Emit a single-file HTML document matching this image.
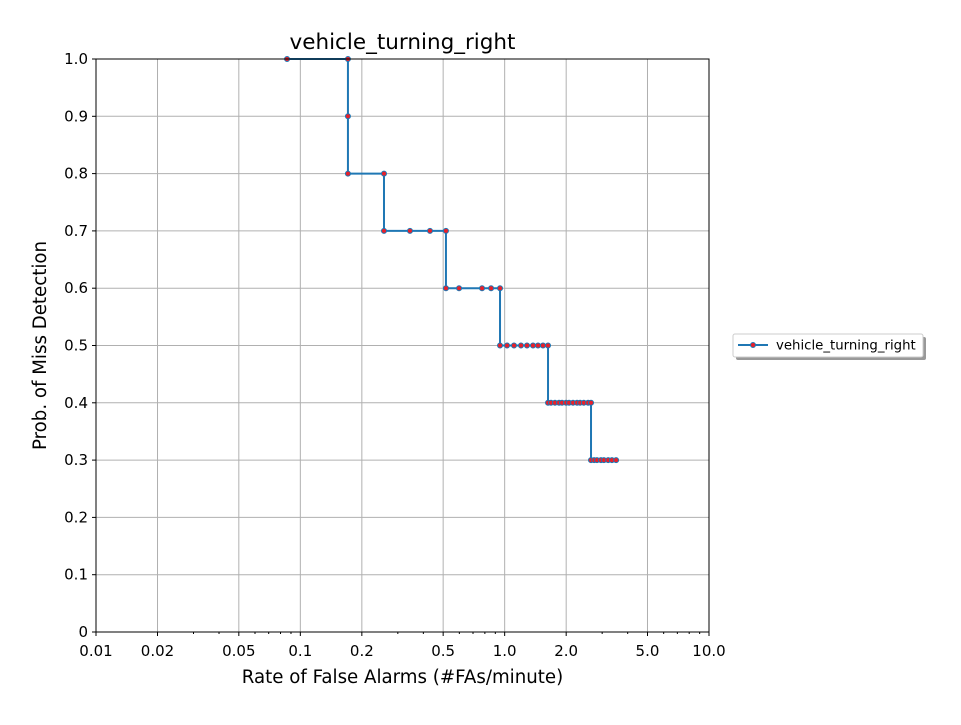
<!DOCTYPE html>
<html><head><meta charset="utf-8"><style>
body{margin:0;background:#fff}
svg{font-family:"DejaVu Sans","Liberation Sans",sans-serif}
</style></head><body>
<svg id="chart" width="961" height="720" xmlns="http://www.w3.org/2000/svg">
<rect width="961" height="720" fill="#fff"/>
<g id="grid"></g>
<g id="ticks"></g>
<g id="series"></g>
<rect x="96" y="59" width="613" height="573" fill="none" stroke="#000" stroke-width="1"/>
<text x="402.5" y="49" font-size="21.5" text-anchor="middle">vehicle_turning_right</text>
<text x="402.5" y="683" font-size="18.2" text-anchor="middle">Rate of False Alarms (#FAs/minute)</text>
<text transform="translate(46,345.5) rotate(-90)" font-size="18.2" text-anchor="middle">Prob. of Miss Detection</text>
<g>
<rect x="736" y="337" width="190" height="23" rx="2" fill="#999"/>
<rect x="733" y="334" width="190" height="23" rx="2" fill="#fff" stroke="#ccc"/>
<line x1="738" y1="345" x2="768" y2="345" stroke="#1f77b4" stroke-width="2"/>
<circle cx="753" cy="345" r="2.5" fill="#e8202a" stroke="#1f77b4" stroke-width="1"/>
<text x="776" y="349.5" font-size="13.3">vehicle_turning_right</text>
</g>
</svg>
<script>
const xValues=[0.0861,0.171,0.171,0.171,0.2567,0.2567,0.344,0.431,0.516,0.516,0.598,0.775,0.858,0.949,0.949,1.027,1.111,1.202,1.286,1.376,1.456,1.54,1.63,1.63,1.686,1.763,1.845,1.909,1.997,2.066,2.16,2.26,2.34,2.44,2.56,2.646,2.646,2.74,2.83,2.96,3.06,3.21,3.35,3.51];
const yValues=[1.0,1.0,0.9,0.8,0.8,0.7,0.7,0.7,0.7,0.6,0.6,0.6,0.6,0.6,0.5,0.5,0.5,0.5,0.5,0.5,0.5,0.5,0.5,0.4,0.4,0.4,0.4,0.4,0.4,0.4,0.4,0.4,0.4,0.4,0.4,0.4,0.3,0.3,0.3,0.3,0.3,0.3,0.3,0.3];
const xTicks=[0.01,0.02,0.05,0.1,0.2,0.5,1,2,5,10];
const xTickLabels=["0.01","0.02","0.05","0.1","0.2","0.5","1.0","2.0","5.0","10.0"];
const yTicks=[0,0.1,0.2,0.3,0.4,0.5,0.6,0.7,0.8,0.9,1.0];
const yTickLabels=["0","0.1","0.2","0.3","0.4","0.5","0.6","0.7","0.8","0.9","1.0"];
const NS="http://www.w3.org/2000/svg";
const L=96,R=709,T=59,B=632;
const xs=v=>L+(Math.log10(v)+2)/3*(R-L);
const ys=v=>B-v*(B-T);
function mk(tag,attrs,parent){const e=document.createElementNS(NS,tag);for(const k in attrs)e.setAttribute(k,attrs[k]);parent.appendChild(e);return e;}
const grid=document.getElementById('grid'),ticks=document.getElementById('ticks'),ser=document.getElementById('series');
xTicks.forEach((t,i)=>{const x=xs(t);
 const g=mk('line',{x1:x,x2:x,y1:T,y2:B,stroke:'#b0b0b0','stroke-width':1},grid);
 
 
 mk('line',{x1:x,x2:x,y1:B,y2:B+4,stroke:'#000'},ticks);
 const tx=mk('text',{x:x,y:B+24,'font-size':15,'text-anchor':'middle'},ticks);
 
 
 tx.textContent=xTickLabels[i];});
for(let d=-2;d<1;d++)[3,4,6,7,8,9].forEach(m=>{const x=xs(m*Math.pow(10,d));mk('line',{x1:x,x2:x,y1:B,y2:B+2,stroke:'#000'},ticks);});
yTicks.forEach((t,i)=>{const y=ys(t);
 const g=mk('line',{x1:L,x2:R,y1:y,y2:y,stroke:'#b0b0b0','stroke-width':1},grid);
 
 
 mk('line',{x1:L-4,x2:L,y1:y,y2:y,stroke:'#000'},ticks);
 const tx=mk('text',{x:L-8,y:y+5,'font-size':15,'text-anchor':'end'},ticks);
 
 
 tx.textContent=yTickLabels[i];});
const pts=xValues.map((v,i)=>xs(v)+','+ys(yValues[i])).join(' ');
const pl=mk('polyline',{points:pts,fill:'none',stroke:'#1f77b4','stroke-width':2},ser);


xValues.forEach((v,i)=>{const c=mk('circle',{cx:xs(v),cy:ys(yValues[i]),r:2.5,fill:'#e8202a',stroke:'#1f77b4','stroke-width':1},ser);
 
 });
</script>
</body></html>
